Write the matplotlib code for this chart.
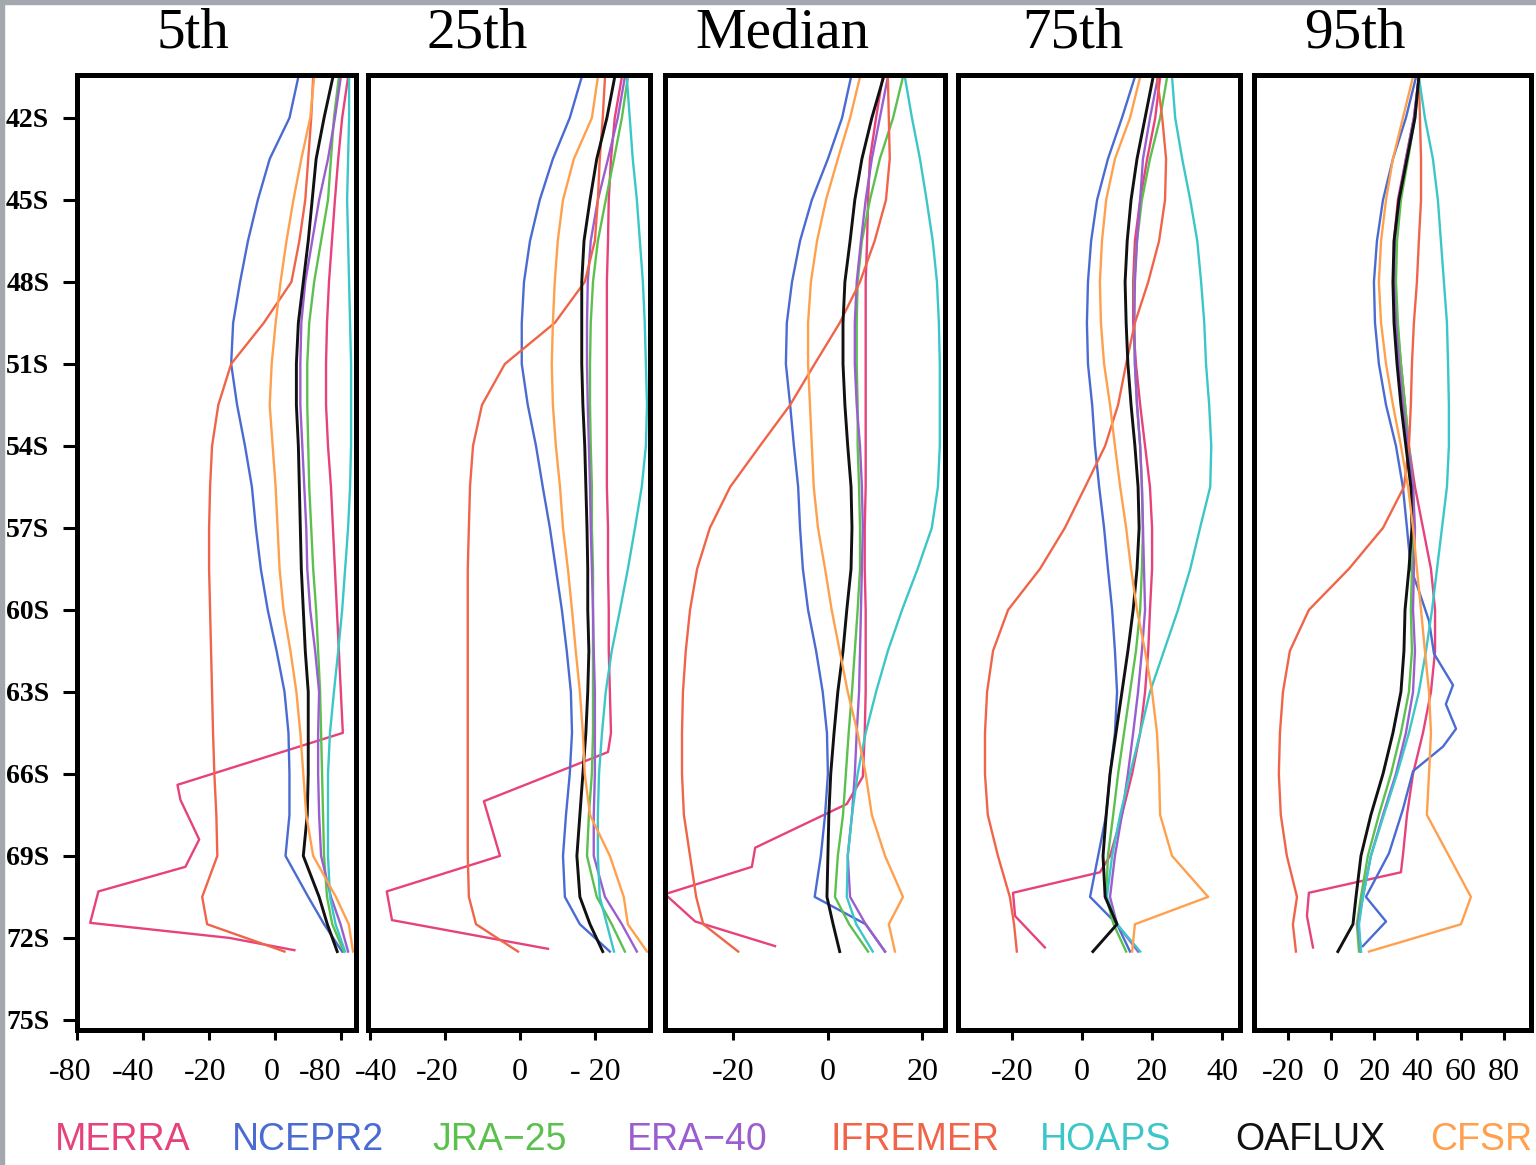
import numpy as np
import matplotlib.pyplot as plt
from matplotlib.patches import Rectangle
from matplotlib.transforms import ScaledTranslation

# common latitude grid (deg S)
lat = [40.5, 42, 43.5, 45, 46.5, 48, 49.5, 51, 52.5, 54, 55.5, 57, 58.5, 60,
       61.5, 63, 64.5, 66, 67.5, 69, 70.5, 71.5, 72.5]

titles = ['5th', '25th', 'Median', '75th', '95th']
names = ['MERRA', 'NCEPR2', 'JRA\u221225', 'ERA\u221240', 'IFREMER', 'HOAPS', 'OAFLUX', 'CFSR']
colors = ['#e6427c', '#4a6bd2', '#5cc04e', '#9a5ecf', '#f0654a', '#3cc6c8', '#111111', '#ffa04e']

lat_ticks = [42, 45, 48, 51, 54, 57, 60, 63, 66, 69, 72, 75]
lat_labels = ['42S', '45S', '48S', '51S', '54S', '57S', '60S', '63S', '66S', '69S', '72S', '75S']

# ---- 5th percentile
p05_merra_lat = lat[:17] + [66.4, 66.95, 68.4, 69.4, 70.3, 71.45, 72.0, 72.45]
p05_merra = [22.3, 20.5, 19.3, 18.3, 17.4, 16.5, 15.9, 15.6, 15.6, 16.2, 17.1, 17.7, 18.3,
             18.9, 19.5, 20.1, 20.7, -29.5, -28.6, -22.9, -27.1, -53.5, -56.0, -13.8, 6.0]
p05_ncep = [7.2, 4.5, -1.5, -5.1, -8.1, -10.5, -12.6, -13.2, -11.4, -9.0, -6.9, -5.7, -4.2,
            -2.1, 0.6, 3.0, 4.2, 4.5, 4.5, 3.3, 10.2, 15.0, 20.5]
p05_jra = [19.5, 18.0, 17.1, 16.2, 14.1, 12.0, 10.5, 9.9, 9.9, 10.2, 10.5, 11.1, 11.7, 12.6,
           13.2, 13.8, 14.1, 14.4, 14.7, 15.0, 15.9, 17.5, 21.0]
p05_era = [20.1, 18.3, 16.2, 13.5, 11.4, 9.3, 8.1, 7.8, 7.8, 8.4, 9.0, 9.6, 9.9, 10.8, 12.3,
           13.5, 13.2, 13.2, 13.5, 14.1, 17.1, 20.0, 22.3]
p05_ifremer = [11.7, 11.1, 10.2, 9.3, 7.5, 5.1, -3.3, -13.2, -17.1, -19.0, -19.6, -19.9, -19.9,
               -19.6, -19.3, -19.0, -18.7, -18.3, -17.7, -17.4, -22.0, -20.5, 3.0]
p05_hoaps = [22.6, 22.6, 22.3, 22.0, 22.3, 22.6, 22.9, 23.2, 23.2, 23.2, 22.9, 22.3, 21.4, 20.5,
             19.3, 18.0, 16.8, 16.2, 16.2, 16.2, 16.8, 18.5, 21.4]
p05_oaflux = [17.7, 15.0, 12.6, 11.4, 10.2, 8.7, 7.2, 6.6, 6.6, 7.2, 7.5, 7.8, 8.1, 8.7, 9.3,
              10.2, 10.2, 10.2, 9.9, 8.7, 13.5, 16.0, 19.0]
p05_cfsr = [12.0, 10.8, 8.1, 5.7, 3.6, 1.8, 0.3, -0.9, -1.5, -0.6, 0.3, 0.9, 1.5, 2.7, 4.8, 6.6,
            7.8, 8.7, 9.6, 11.7, 18.6, 22.5, 23.8]

# ---- 25th percentile
p25_merra_lat = lat[:17] + [65.2, 67.0, 69.0, 70.3, 71.35, 72.4]
p25_merra = [27.2, 25.3, 24.3, 23.7, 23.5, 23.2, 23.2, 23.2, 23.2, 23.2, 23.2, 23.5, 23.5, 23.7,
             23.7, 24.0, 24.3, 23.5, -9.6, -5.3, -35.5, -34.1, 7.5]
p25_ncep = [16.5, 13.3, 8.8, 5.3, 2.7, 1.1, 0.5, 0.5, 2.1, 4.3, 6.1, 8.0, 9.6, 11.2, 12.5, 13.6,
            13.9, 13.3, 12.3, 11.5, 12.0, 16.0, 24.0]
p25_jra = [28.8, 27.2, 25.1, 22.9, 20.8, 19.5, 18.9, 18.7, 18.7, 18.9, 19.2, 19.2, 19.5, 19.5,
           19.5, 19.5, 19.5, 19.2, 18.4, 17.9, 20.5, 24.5, 28.0]
p25_era = [28.0, 26.1, 23.5, 20.8, 18.9, 18.1, 17.9, 17.9, 18.1, 18.4, 18.7, 18.9, 19.2, 19.5,
           19.7, 20.0, 20.0, 20.0, 19.7, 19.7, 22.7, 27.2, 31.2]
p25_ifremer = [22.7, 22.1, 21.3, 20.8, 20.0, 17.3, 9.3, -4.0, -10.1, -12.5, -13.3, -13.6, -13.9,
               -13.9, -13.9, -13.9, -13.9, -13.9, -13.9, -13.9, -13.6, -11.7, -0.5]
p25_hoaps = [28.5, 29.3, 30.1, 31.2, 32.0, 32.8, 33.3, 33.6, 33.9, 33.6, 32.5, 30.7, 28.8, 26.7,
             24.5, 22.9, 21.9, 21.1, 20.8, 20.8, 21.3, 23.2, 25.1]
p25_oaflux = [25.3, 23.2, 20.5, 18.7, 17.1, 16.5, 16.5, 16.5, 16.8, 17.3, 17.6, 17.9, 18.1, 18.1,
              18.4, 18.1, 17.6, 16.8, 16.0, 15.2, 16.0, 18.7, 22.1]
p25_cfsr = [20.8, 19.2, 14.4, 11.5, 10.1, 9.3, 8.8, 8.5, 8.8, 9.6, 10.7, 11.5, 12.8, 13.9, 14.9,
            16.0, 16.8, 17.3, 18.7, 24.0, 27.7, 28.8, 33.9]

# ---- median
p50_merra_lat = lat[:17] + [66.1, 67.1, 68.7, 69.4, 70.4, 71.4, 72.3]
p50_merra = [11.6, 10.2, 8.9, 8.5, 8.3, 8.0, 8.0, 8.0, 8.0, 8.0, 8.0, 7.8, 7.8, 8.0, 8.0, 8.0,
             7.8, 7.4, 4.0, -15.4, -16.1, -34.5, -28.1, -11.2]
p50_ncep = [4.9, 3.0, 0.0, -3.4, -5.9, -7.6, -8.7, -8.9, -8.0, -7.2, -6.3, -5.9, -5.3, -4.2, -2.5,
            -1.1, -0.2, 0.0, -0.6, -1.5, -2.8, 8.0, 12.1]
p50_jra = [15.9, 13.8, 11.0, 8.9, 7.2, 6.3, 6.1, 6.1, 6.3, 6.3, 6.6, 6.8, 6.8, 6.3, 5.7, 5.1, 4.4,
           3.8, 3.2, 2.1, 1.5, 4.5, 8.5]
p50_era = [12.7, 11.0, 9.3, 8.0, 7.0, 6.1, 5.7, 5.7, 6.1, 6.8, 7.2, 7.4, 7.2, 7.0, 6.8, 6.6, 6.1,
           5.7, 5.1, 4.2, 4.7, 8.0, 12.1]
p50_ifremer = [12.7, 12.9, 13.1, 12.3, 9.9, 6.8, 2.5, -2.8, -8.0, -14.4, -20.7, -25.0, -27.7,
               -29.2, -30.1, -30.7, -30.9, -30.9, -30.5, -29.2, -27.9, -26.4, -19.0]
p50_hoaps = [16.3, 17.8, 19.5, 20.9, 22.2, 23.1, 23.5, 23.7, 23.7, 23.7, 23.3, 22.0, 19.0, 15.7,
             12.7, 10.2, 8.0, 6.3, 5.1, 4.2, 4.0, 6.0, 9.5]
p50_oaflux = [11.8, 9.3, 7.2, 5.7, 4.7, 3.6, 3.2, 3.2, 3.6, 4.2, 4.9, 5.1, 4.9, 4.0, 3.2, 2.1,
              1.3, 0.6, 0.2, 0.0, -0.2, 1.1, 2.5]
p50_cfsr = [6.8, 4.7, 2.1, -0.4, -2.3, -3.6, -4.2, -4.2, -3.8, -3.4, -3.0, -2.1, -0.6, 0.8, 2.5,
            4.2, 6.3, 8.0, 9.3, 12.1, 15.9, 12.9, 14.2]

# ---- 75th percentile
p75_merra_lat = lat[:20] + [69.6, 70.35, 71.2, 72.35]
p75_merra = [22.3, 20.9, 18.6, 16.6, 15.1, 14.6, 14.6, 15.4, 16.6, 18.0, 19.4, 20.0, 20.0, 19.4,
             18.9, 18.0, 16.6, 14.3, 11.4, 8.0, 5.1, -19.7, -19.1, -10.6]
p75_ncep = [15.1, 11.4, 7.4, 4.3, 2.6, 1.7, 1.4, 1.7, 2.9, 3.7, 4.9, 6.3, 7.4, 8.6, 9.4, 10.0,
            9.4, 8.0, 6.9, 4.6, 2.3, 10.0, 13.7]
p75_jra = [24.3, 22.3, 19.4, 17.1, 15.7, 14.9, 14.9, 15.1, 15.7, 16.6, 17.1, 17.4, 17.1, 16.6,
           15.4, 13.7, 12.0, 10.3, 8.9, 7.4, 6.9, 9.0, 12.6]
p75_era = [21.7, 19.4, 17.4, 16.6, 15.7, 15.1, 14.9, 15.1, 15.7, 16.6, 17.1, 17.4, 17.7, 18.0,
           17.1, 16.0, 14.6, 13.1, 11.4, 9.4, 8.0, 10.0, 16.0]
p75_ifremer = [21.4, 22.9, 24.0, 23.7, 22.0, 18.9, 15.1, 12.6, 10.3, 6.6, 0.9, -4.9, -12.0, -21.1,
               -25.4, -27.1, -27.7, -27.7, -26.9, -24.0, -20.6, -19.4, -18.6]
p75_hoaps = [25.7, 26.6, 28.6, 30.9, 32.9, 34.0, 34.9, 35.4, 36.3, 36.9, 36.6, 33.7, 30.9, 27.4,
             23.4, 19.4, 16.6, 13.7, 10.9, 8.6, 7.1, 10.0, 16.6]
p75_oaflux = [20.3, 18.0, 15.7, 14.0, 12.9, 12.3, 12.6, 13.1, 14.0, 15.1, 16.0, 16.3, 15.7, 14.6,
              13.1, 11.4, 9.7, 8.0, 6.9, 6.0, 6.6, 10.0, 3.1]
p75_cfsr = [16.6, 13.7, 9.4, 6.9, 5.7, 5.1, 5.4, 6.3, 8.0, 9.4, 10.9, 12.6, 14.0, 15.7, 18.0, 20.0,
            21.4, 22.0, 22.3, 25.7, 36.0, 15.1, 14.3]

# ---- 95th percentile
p95_merra_lat = lat[:20] + [69.6, 70.35, 71.2, 72.35]
p95_merra = [40.7, 38.4, 34.7, 31.0, 29.2, 29.2, 30.6, 32.4, 34.3, 36.1, 38.9, 42.6, 46.3, 48.2,
             48.2, 46.3, 42.6, 38.0, 35.2, 33.3, 32.4, -10.2, -11.1, -8.3]
p95_ncep_lat = [40.5, 42, 43.5, 45, 46.5, 48, 49.5, 51, 52.5, 54, 55.5, 57, 58.5, 59.3, 60.4,
                61.6, 62.75, 63.45, 64.35, 65.0, 65.9, 67.3, 68.9, 70.5, 71.4, 72.3]
p95_ncep = [39.4, 34.7, 28.7, 24.1, 21.3, 19.9, 20.4, 22.2, 25.5, 30.1, 33.3, 35.2, 37.0, 40.7,
            45.4, 47.7, 56.5, 53.2, 57.9, 51.9, 38.0, 33.3, 26.9, 16.2, 25.5, 14.8]
p95_jra = [40.7, 38.9, 35.7, 32.4, 30.6, 30.1, 31.0, 32.4, 34.3, 36.1, 38.0, 38.4, 37.5, 37.0,
           37.5, 36.1, 32.4, 27.8, 22.2, 17.1, 13.9, 12.0, 13.0]
p95_era = [40.7, 38.4, 34.7, 31.5, 29.6, 29.2, 30.1, 31.5, 33.3, 35.7, 38.0, 38.9, 38.4, 38.0,
           38.9, 38.0, 34.7, 30.1, 24.1, 18.5, 14.8, 12.5, 13.9]
p95_ifremer = [40.7, 41.2, 41.7, 41.7, 40.7, 39.8, 38.4, 37.5, 37.0, 36.1, 33.8, 24.1, 8.3, -10.2,
               -19.0, -22.2, -23.6, -24.1, -23.2, -20.4, -15.7, -17.6, -16.2]
p95_hoaps = [40.7, 43.5, 47.2, 49.5, 50.9, 52.3, 53.7, 54.2, 54.6, 54.6, 53.7, 51.4, 49.1, 46.8,
             44.0, 40.7, 36.1, 30.6, 24.5, 18.5, 14.8, 13.0, 13.9]
p95_oaflux = [40.7, 38.9, 35.2, 31.5, 29.2, 28.7, 29.2, 30.6, 32.4, 34.7, 37.0, 37.5, 36.1, 34.3,
              33.8, 32.4, 28.7, 24.1, 18.5, 13.9, 11.6, 10.2, 3.2]
p95_cfsr = [38.0, 33.3, 28.7, 25.5, 23.2, 22.2, 23.2, 25.5, 28.7, 32.4, 35.7, 38.0, 39.8, 41.7,
            43.5, 45.4, 46.3, 45.4, 44.4, 54.6, 64.8, 60.2, 17.6]

# x axis of every panel (the tick labels are printed as in the original figure)
x_ticks = [[-60, -40, -20, 0, 20], [-40, -20, 0, 20], [-20, 0, 20], [-20, 0, 20, 40],
           [-20, 0, 20, 40, 60, 80]]
x_labels = [['-80', '-40', '-20', '0', '-80'], ['-40', '-20', '0', '- 20'], ['-20', '0', '20'],
            ['-20', '0', '20', '40'], ['-20', '0', '20', '40', '60', '80']]

# each panel: list of (lat, value) in legend order
panels = [
    [(p05_merra_lat, p05_merra), (lat, p05_ncep), (lat, p05_jra), (lat, p05_era),
     (lat, p05_ifremer), (lat, p05_hoaps), (lat, p05_oaflux), (lat, p05_cfsr)],
    [(p25_merra_lat, p25_merra), (lat, p25_ncep), (lat, p25_jra), (lat, p25_era),
     (lat, p25_ifremer), (lat, p25_hoaps), (lat, p25_oaflux), (lat, p25_cfsr)],
    [(p50_merra_lat, p50_merra), (lat, p50_ncep), (lat, p50_jra), (lat, p50_era),
     (lat, p50_ifremer), (lat, p50_hoaps), (lat, p50_oaflux), (lat, p50_cfsr)],
    [(p75_merra_lat, p75_merra), (lat, p75_ncep), (lat, p75_jra), (lat, p75_era),
     (lat, p75_ifremer), (lat, p75_hoaps), (lat, p75_oaflux), (lat, p75_cfsr)],
    [(p95_merra_lat, p95_merra), (p95_ncep_lat, p95_ncep), (lat, p95_jra), (lat, p95_era),
     (lat, p95_ifremer), (lat, p95_hoaps), (lat, p95_oaflux), (lat, p95_cfsr)],
]

W, H = 1536, 1165
# panel boxes in pixels: left, right
px_lr = [(77, 356), (368, 650), (665, 945), (958, 1240), (1254, 1531)]
x_lims = [(-60, 24.7), (-40.5, 34.7), (-34.5, 24.8), (-35.4, 45.1), (-35.6, 92.6)]
# small horizontal nudges (px) of tick labels, as printed in the original
label_shift = [[-7, -10, -4, -3, -20], [6, -8, 0, 0], [0, 0, 0], [0, 0, 0, 0],
               [-5, 0, 0, 0, 0, 0]]
title_x = [193, 477, 782, 1073, 1355]
top_px, bot_px = 75, 1030

serif = 'Liberation Serif'
fig = plt.figure(figsize=(W / 100, H / 100), dpi=100)

for i in range(5):
    l, r = px_lr[i]
    ax = fig.add_axes([l / W, 1 - bot_px / H, (r - l) / W, (bot_px - top_px) / H])
    for (la, v), c in zip(panels[i], colors):
        lw = 2.1 if c == '#111111' else 1.7
        ax.plot(v, -np.array(la), color=c, lw=lw)
    ax.set_xlim(*x_lims[i])
    ax.set_ylim(-75.37, -40.43)
    for s in ax.spines.values():
        s.set_linewidth(3.6)
    ax.set_xticks(x_ticks[i])
    ax.set_xticklabels(x_labels[i], fontsize=23, family=serif)
    ax.tick_params(axis='x', direction='out', length=7, width=2.2, pad=13)
    for lab, dx in zip(ax.get_xticklabels(), label_shift[i]):
        lab.set_transform(lab.get_transform() + ScaledTranslation(dx / 100, 0, fig.dpi_scale_trans))
    if i == 0:
        ax.set_yticks([-t for t in lat_ticks])
        ax.set_yticklabels(lat_labels, fontsize=20, family=serif, fontweight='bold')
        ax.tick_params(axis='y', direction='out', length=10, width=2.2, pad=10)
    else:
        ax.set_yticks([])
    fig.text(title_x[i] / W, 1 - 33 / H, titles[i], ha='center', va='center',
             fontsize=41, family=serif)

# legend row of coloured names
leg_x = [55, 232, 432, 627, 830, 1040, 1235, 1430]
for x, n, c in zip(leg_x, names, colors):
    fig.text(x / W, 1 - 1140 / H, n, ha='left', va='center', fontsize=27,
             family='Liberation Sans', color=c)

# grey frame of the scanned figure
fig.patches.append(Rectangle((0, 1 - 4 / H), 1, 4 / H, transform=fig.transFigure,
                             color='#a3a7ae', zorder=0))
fig.patches.append(Rectangle((0, 0), 4 / W, 1, transform=fig.transFigure,
                             color='#a3a7ae', zorder=0))

fig.savefig('out.png', dpi=100)
